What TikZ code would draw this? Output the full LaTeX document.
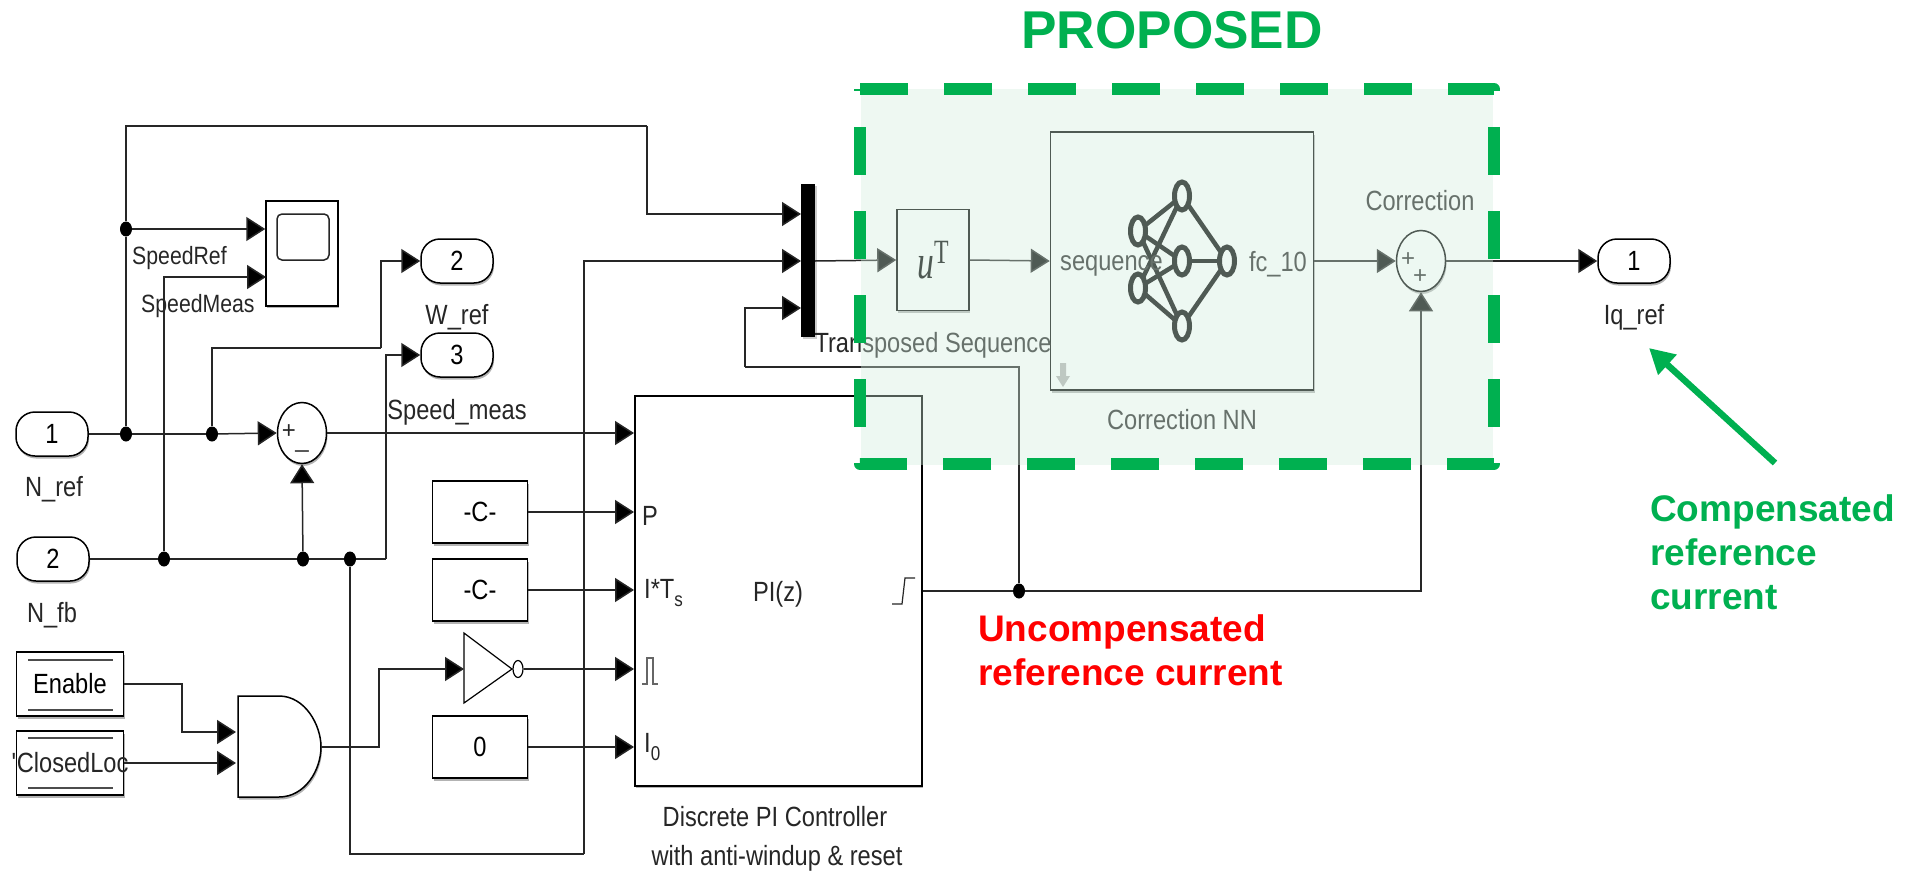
\documentclass[tikz,border=0pt]{standalone}
\usepackage{fontspec}
\setmainfont{Liberation Sans}
\newfontfamily\simfont[FakeStretch=0.85]{Liberation Sans}
\newfontfamily\symfont[FakeStretch=0.7]{Liberation Serif}
\usetikzlibrary{arrows.meta,shapes.geometric,shadows}
\definecolor{propgreen}{HTML}{00B050}
\definecolor{veilgreen}{RGB}{210,237,222}
\tikzstyle{Block}=[rectangle, draw=black, line width=1.5, fill=white, inner sep=0, drop shadow={shadow xshift=1pt, shadow yshift=-2.5pt, opacity=.6}, font=\simfont\fontsize{27.8}{28}\selectfont]
\tikzstyle{Port}=[Block, rectangle, rounded corners=19, minimum width=72, minimum height=44]
\tikzstyle{Tag}=[Block, minimum width=95, minimum height=62]
\tikzstyle{Goto}=[Block, minimum width=107, minimum height=64]
\tikzstyle{Sum}=[Block, ellipse, minimum width=49, minimum height=61]
\tikzstyle{Dot}=[ellipse, fill=black, inner sep=0, minimum width=12, minimum height=15]
\tikzstyle{Name}=[inner sep=0, text=black!85, font=\simfont\fontsize{27.8}{28}\selectfont]
\tikzstyle{Sig}=[inner sep=0, text=black!85, font=\simfont\fontsize{25}{25}\selectfont]
\tikzstyle{Sign}=[inner sep=0, text=black!85, font=\fontsize{24}{24}\selectfont]
\tikzstyle{Wire}=[draw=black!85, line width=1.5]
\tikzstyle{Feed}=[Wire, -{Triangle[length=19pt,width=24pt,fill=black]}]
\tikzstyle{Neuron}=[ellipse, draw=black, line width=5, fill=white, inner sep=0, minimum width=15, minimum height=28]
\tikzstyle{Call}=[inner sep=0, align=left, anchor=north west, font=\bfseries\fontsize{37}{44}\selectfont]

\begin{document}
\begin{tikzpicture}[x=1pt, y=-1pt]
    \useasboundingbox (0,0) rectangle (1910,872);

    % inputs and outputs
    \path
    (52,434) node[Port] (inref) {1}
    (53,559) node[Port] (infb) {2}
    (457,261) node[Port] (outw) {2}
    (457,355) node[Port] (outs) {3}
    (1634,261) node[Port] (outiq) {1}
    (54,489) node[Name] (lref) {N\_ref}
    (52,615) node[Name] (lfb) {N\_fb}
    (457,317) node[Name] (lw) {W\_ref}
    (457,412) node[Name] (ls) {Speed\_meas}
    (1634,317) node[Name] (liq) {Iq\_ref};

    % junctions
    \path
    (126,434) node[Dot] (dotscope) {}
    (126,229) node[Dot] (dotup) {}
    (212,434) node[Dot] (dotw) {}
    (164,559) node[Dot] (dotmeas) {}
    (303,559) node[Dot] (dotsum) {}
    (350,559) node[Dot] (dotback) {}
    (1019,591) node[Dot] (dotpi) {};

    % blocks on the left
    \path
    (302,433) node[Sum] (err) {}
    (302,200) node[Block, anchor=north, minimum width=72, minimum height=105] (scope) {}
    (303,237) node[draw=black!85, line width=1.5, rounded corners=5, inner sep=0, minimum width=52, minimum height=46] (screen) {}
    (480,512) node[Tag] (kp) {-C-}
    (480,590) node[Tag] (ki) {-C-}
    (480,747) node[Tag] (zero) {0}
    (70,684) node[Goto] (enable) {Enable}
    (70,763) node[Goto] (closed) {}
    (70,763) node[Name] (closedtxt) {\textquotesingle ClosedLoc}
    (634,395) node[Block, anchor=north west, minimum width=287, minimum height=390] (pi) {}
    (808,260) node[rectangle, fill=black, inner sep=0, minimum width=14, minimum height=153, drop shadow={shadow xshift=2pt, shadow yshift=-2pt, opacity=.4}] (mux) {};

    \draw[draw=black!70, line width=1.5] (28,660) -- (113,660) (28,710) -- (113,710) (28,738) -- (113,738) (28,788) -- (113,788);
    \draw[Block] (238,696) -- (279,696) .. controls (305,696) and (321,725) .. (321,747) .. controls (321,770) and (305,797) .. (279,797) -- (238,797) -- cycle;
    \draw[draw=black, line width=1.2, fill=white] (464,633) -- (512,669) -- (464,703) -- cycle;
    \path (518,669) node[ellipse, draw=black, line width=1.2, fill=white, inner sep=0, minimum width=10, minimum height=17] (bubble) {};

    \path
    (132,258) node[Sig, anchor=west] (lspeedref) {SpeedRef}
    (141,306) node[Sig, anchor=west] (lspeedmeas) {SpeedMeas}
    (289,432) node[Sign] (errplus) {+}
    (302,450) node[Sign] (errminus) {\_}
    (650,516) node[Name] (pinp) {P}
    (644,593) node[Name, anchor=west] (pini) {I*T\raisebox{-8pt}{\fontsize{20}{20}\selectfont s}}
    (644,747) node[Name, anchor=west] (pinz) {I\raisebox{-8pt}{\fontsize{20}{20}\selectfont 0}}
    (778,594) node[Name] (ltf) {PI(z)}
    (775,817) node[Name] (lpi) {Discrete PI Controller}
    (777,858) node[Name] (lpib) {with anti-windup \& reset};
    \draw[draw=black!60, line width=1.2] (642,684) -- (647,684) -- (647,658) -- (653,658) -- (653,684) -- (658,684);
    \draw[draw=black!85, line width=1.2] (892,604) -- (902,604) -- (905,578) -- (915,578);

    % correction path
    \path
    (933,260) node[Block, minimum width=72, minimum height=101] (trans) {\symfont\fontsize{48}{48}\selectfont\itshape u\raisebox{15pt}{\upshape\fontsize{34}{34}\selectfont T}}
    (1182,261) node[Block, minimum width=263, minimum height=258] (net) {}
    (1421,261) node[Sum] (fix) {}
    (1408,260) node[Sign] (fixplusa) {+}
    (1420,277) node[Sign] (fixplusb) {+}
    (1420,201) node[Name] (lfix) {Correction}
    (1182,420) node[Name] (lnet) {Correction NN}
    (933,345) node[Name] (ltrans) {Transposed Sequence};

    \coordinate (na) at (1138,231);
    \coordinate (nb) at (1138,288);
    \coordinate (nc) at (1182,196);
    \coordinate (nd) at (1182,261);
    \coordinate (ne) at (1182,326);
    \coordinate (nf) at (1227,261);
    \foreach \from/\to in {na/nc,na/nd,na/ne,nb/nc,nb/nd,nb/ne,nc/nf,nd/nf,ne/nf}
        \draw[draw=black, line width=4.5] (\from) -- (\to);
    \foreach \n in {na,nb,nc,nd,ne,nf}
        \path (\n) node[Neuron] (cell\n) {};
    \path
    (1060,266) node[Name, anchor=west] (lseq) {sequence}
    (1307,264) node[Name, anchor=east] (lfc) {fc\_10};
    \fill[black!30] (1060,363) -- (1066,363) -- (1066,376) -- (1070,376) -- (1063,387) -- (1056,376) -- (1060,376) -- cycle;

    % signals
    \coordinate (bendtop) at (647,126);
    \coordinate (bendmid) at (584,854);
    \coordinate (bendfb) at (745,367);
    \coordinate (bendw) at (381,348);
    \coordinate (bendouts) at (386,559);
    \coordinate (bendand) at (182,732);
    \coordinate (bendnot) at (379,669);
    \coordinate (scopeb) at (266,277);
    \coordinate (anda) at (236,732);
    \coordinate (andb) at (236,763);
    \coordinate (andout) at (321,747);
    \coordinate (notin) at (464,669);
    \coordinate (muxa) at (801,214);
    \coordinate (muxb) at (801,261);
    \coordinate (muxc) at (801,308);

    \draw[Wire] (inref) -- (dotscope);
    \draw[Wire] (dotscope) -- (dotw);
    \draw[Feed] (dotw) -- (err.west);
    \draw[Feed] (err.east) -- (err -| pi.west);
    \draw[Wire] (dotscope) -- (dotup);
    \draw[Feed] (dotup) -- (dotup -| scope.west);
    \draw[Wire] (dotup) |- (bendtop);
    \draw[Feed] (bendtop) |- (muxa);
    \draw[Wire] (infb) -- (dotmeas);
    \draw[Wire] (dotmeas) -- (dotsum);
    \draw[Wire] (dotsum) -- (dotback);
    \draw[Feed] (dotmeas) |- (scopeb);
    \draw[Feed] (dotsum) -- (err.south);
    \draw[Wire] (dotback) -- (bendouts);
    \draw[Feed] (bendouts) |- (outs.west);
    \draw[Wire] (dotw) |- (bendw);
    \draw[Feed] (bendw) |- (outw.west);
    \draw[Wire] (dotback) |- (bendmid);
    \draw[Feed] (bendmid) |- (muxb);
    \draw[Feed] (kp) -- (kp -| pi.west);
    \draw[Feed] (ki) -- (ki -| pi.west);
    \draw[Feed] (bubble) -- (bubble -| pi.west);
    \draw[Feed] (zero) -- (zero -| pi.west);
    \draw[Feed] (enable.east) -| (bendand) -- (anda);
    \draw[Feed] (closed.east) -- (andb);
    \draw[Feed] (andout) -| (bendnot) -- (notin);
    \draw[Wire] (pi.east |- dotpi) -- (dotpi);
    \draw[Wire] (dotpi) |- (bendfb);
    \draw[Feed] (bendfb) |- (muxc);
    \draw[Feed] (dotpi) -| (fix.south);
    \draw[Feed] (mux.east |- muxb) -- (trans.west);
    \draw[Feed] (trans.east) -- (net.west);
    \draw[Feed] (net.east) -- (fix.west);
    \draw[Feed] (fix.east) -- (outiq.west);

    % proposed region
    \fill[veilgreen, fill opacity=.38] (861,89) rectangle (1493,465);
    \draw[draw=propgreen, line width=12, line join=round, dash pattern=on 48 off 36] (860,89) -- (1494,89) -- (1494,464) -- (860,464) -- cycle;

    \path
    (1172,30) node[inner sep=0, text=propgreen, font=\bfseries\fontsize{53.2}{53}\selectfont] (lprop) {PROPOSED}
    (978,614) node[Call, text=red] (lunc) {Uncompensated\\reference current}
    (1650,494) node[Call, text=propgreen] (lcomp) {Compensated\\reference\\current};
    \coordinate (callfrom) at (1775,463);
    \coordinate (callto) at (1649,348);
    \draw[draw=propgreen, line width=6.5, -{Triangle[length=25pt,width=26pt]}] (callfrom) -- (callto);
\end{tikzpicture}
\end{document}
